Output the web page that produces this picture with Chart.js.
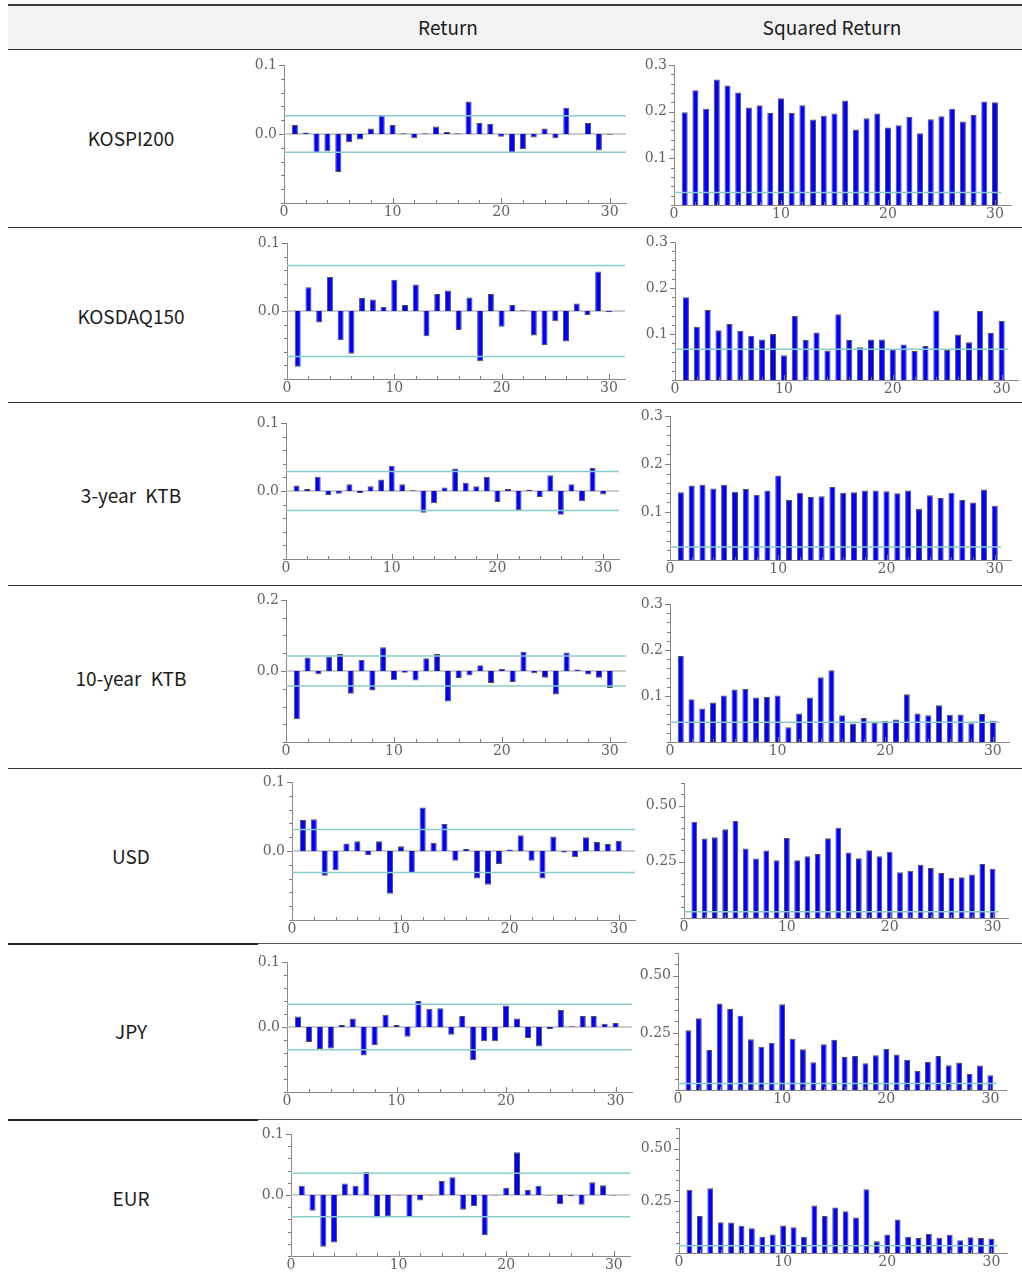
<!DOCTYPE html>
<html>
<head>
<meta charset="utf-8">
<title>Autocorrelation of returns and squared returns</title>
<script src="https://cdn.jsdelivr.net/npm/chart.js@4.4.1/dist/chart.umd.min.js"></script>
<style>
  html, body { margin: 0; padding: 0; background: #ffffff; }
  #sheet { position: relative; width: 1022px; height: 1275px; overflow: hidden;
           font-family: "Noto Sans CJK KR", "Noto Sans", sans-serif; color: #1c1c1c; }
  .hdr { position: absolute; left: 8px; right: 0; top: 4px; height: 43px; background: #f2f2f2;
         border-top: 2px solid #3a3a3a; border-bottom: 1.5px solid #2e2e2e; }
  .htxt { position: absolute; top: 26px; transform: translate(-50%, -50%); font-size: 19px; white-space: nowrap; }
  .rowlab { position: absolute; left: 131px; transform: translate(-50%, -50%); font-size: 19px;
            white-space: nowrap; word-spacing: 5px; }
  .sep { position: absolute; height: 0; }
  canvas { position: absolute; }
</style>
</head>
<body>
<div id="sheet">
  <div class="hdr"></div>
  <div class="htxt" style="left:448px">Return</div>
  <div class="htxt" style="left:832px">Squared Return</div>
</div>
<script>
// ---- lags and axis tick labels ----
const lags = [1,2,3,4,5,6,7,8,9,10,11,12,13,14,15,16,17,18,19,20,21,22,23,24,25,26,27,28,29,30];
const xTickValues = [0, 10, 20, 30];
const xTickLabels = ['0', '10', '20', '30'];
const retTickValues = [0, 0.1];
const retTickLabels = ['0.0', '0.1'];
const ret2TickValues = [0, 0.2];
const ret2TickLabels = ['0.0', '0.2'];
const sqTickValues = [0.1, 0.2, 0.3];
const sqTickLabels = ['0.1', '0.2', '0.3'];
const sq2TickValues = [0.25, 0.5];
const sq2TickLabels = ['0.25', '0.50'];

// ---- series ----
const assetNames = ['KOSPI200', 'KOSDAQ150', '3-year KTB', '10-year KTB', 'USD', 'JPY', 'EUR'];

const kospiRet = [0.013,0.002,-0.027,-0.025,-0.055,-0.012,-0.008,0.008,0.027,0.013,0.001,-0.006,0.001,0.011,0.003,0.001,0.047,0.016,0.015,-0.004,-0.027,-0.022,-0.005,0.008,-0.006,0.038,-0.0005,0.016,-0.024,-0.001];
const kospiRetBand = 0.0265;
const kospiSq = [0.199,0.246,0.206,0.269,0.256,0.241,0.209,0.214,0.197,0.229,0.197,0.214,0.183,0.191,0.196,0.224,0.162,0.186,0.196,0.166,0.171,0.189,0.154,0.184,0.190,0.206,0.179,0.193,0.222,0.220];
const kospiSqBand = 0.027;

const kosdaqRet = [-0.082,0.035,-0.017,0.050,-0.043,-0.063,0.019,0.017,0.006,0.046,0.009,0.039,-0.037,0.025,0.030,-0.028,0.020,-0.074,0.025,-0.023,0.009,0.001,-0.036,-0.050,-0.015,-0.045,0.011,-0.006,0.058,-0.002];
const kosdaqRetBand = 0.067;
const kosdaqSq = [0.180,0.116,0.152,0.108,0.122,0.107,0.096,0.088,0.100,0.054,0.139,0.087,0.103,0.064,0.143,0.087,0.071,0.088,0.088,0.067,0.077,0.063,0.074,0.151,0.065,0.099,0.082,0.150,0.102,0.128];
const kosdaqSqBand = 0.067;

const ktb3Ret = [0.008,0.003,0.021,-0.006,-0.004,0.010,-0.003,0.007,0.017,0.037,0.010,0.001,-0.032,-0.018,0.005,0.033,0.012,0.007,0.021,-0.016,0.003,-0.028,0.002,-0.009,0.023,-0.035,0.010,-0.015,0.034,-0.005];
const ktb3RetBand = 0.0285;
const ktb3Sq = [0.141,0.155,0.157,0.149,0.157,0.142,0.148,0.136,0.145,0.176,0.125,0.140,0.131,0.133,0.152,0.140,0.141,0.145,0.145,0.143,0.139,0.145,0.106,0.135,0.129,0.140,0.125,0.120,0.147,0.113];
const ktb3SqBand = 0.027;

const ktb10Ret = [-0.136,0.038,-0.009,0.041,0.048,-0.064,0.031,-0.055,0.067,-0.026,-0.005,-0.027,0.036,0.048,-0.086,-0.020,-0.013,0.016,-0.034,0.006,-0.031,0.054,-0.006,-0.019,-0.066,0.052,0.004,-0.010,-0.019,-0.048];
const ktb10RetBand = 0.0425;
const ktb10Sq = [0.187,0.093,0.073,0.086,0.101,0.114,0.115,0.097,0.098,0.101,0.032,0.062,0.097,0.141,0.156,0.058,0.040,0.052,0.042,0.046,0.049,0.104,0.062,0.058,0.080,0.059,0.060,0.041,0.061,0.046];
const ktb10SqBand = 0.043;

const usdRet = [0.045,0.046,-0.036,-0.028,0.011,0.014,-0.006,0.014,-0.062,0.007,-0.032,0.063,0.012,0.039,-0.014,0.003,-0.040,-0.049,-0.019,0.002,0.023,-0.014,-0.040,0.021,-0.002,-0.009,0.020,0.013,0.010,0.015];
const usdRetBand = 0.031;
const usdSq = [0.428,0.353,0.359,0.394,0.431,0.309,0.265,0.300,0.257,0.356,0.257,0.275,0.285,0.354,0.401,0.291,0.266,0.301,0.274,0.294,0.203,0.210,0.237,0.222,0.200,0.179,0.181,0.193,0.240,0.219];
const usdSqBand = 0.028;

const jpyRet = [0.016,-0.023,-0.034,-0.033,0.003,0.013,-0.044,-0.028,0.019,0.003,-0.015,0.040,0.028,0.029,-0.012,0.017,-0.051,-0.022,-0.022,0.033,0.013,-0.017,-0.030,-0.003,0.026,0.001,0.017,0.017,0.005,0.006];
const jpyRetBand = 0.035;
const jpySq = [0.262,0.314,0.175,0.379,0.355,0.325,0.222,0.189,0.207,0.376,0.225,0.179,0.121,0.200,0.220,0.145,0.149,0.117,0.152,0.180,0.155,0.132,0.083,0.123,0.149,0.108,0.120,0.070,0.107,0.065];
const jpySqBand = 0.028;

const eurRet = [0.015,-0.026,-0.085,-0.078,0.019,0.015,0.038,-0.037,-0.035,-0.001,-0.036,-0.009,-0.001,0.023,0.029,-0.024,-0.018,-0.066,-0.001,0.012,0.070,0.008,0.015,-0.001,-0.015,-0.002,-0.016,0.021,0.016,-0.001];
const eurRetBand = 0.0355;
const eurSq = [0.304,0.178,0.311,0.148,0.146,0.131,0.119,0.078,0.089,0.132,0.124,0.078,0.228,0.178,0.218,0.201,0.170,0.306,0.057,0.089,0.161,0.078,0.072,0.091,0.073,0.088,0.061,0.076,0.072,0.070];
const eurSqBand = 0.035;

// ---- page layout: label rows, separators, plot frames (pixels) ----
const rowLabelY = [137, 315, 494, 677, 855, 1030, 1197];
const separators = [
  { y: 228, split: false }, { y: 403, split: false }, { y: 586, split: false },
  { y: 769, split: false }, { y: 944, split: true }, { y: 1120, split: true }
];
const retFrames = [
  { l: 284, r: 626, t: 65,   b: 203 },
  { l: 287, r: 625, t: 243,  b: 379 },
  { l: 286, r: 619, t: 423,  b: 559 },
  { l: 286, r: 626, t: 600,  b: 742 },
  { l: 292, r: 635, t: 782,  b: 920 },
  { l: 287, r: 632, t: 962,  b: 1092 },
  { l: 291, r: 630, t: 1134, b: 1256 }
];
const sqFrames = [
  { l: 674, r: 1011, t: 65,   b: 205 },
  { l: 675, r: 1018, t: 242,  b: 380 },
  { l: 670, r: 1011, t: 416,  b: 560 },
  { l: 670, r: 1009, t: 604,  b: 742 },
  { l: 684, r: 1008, t: 783,  b: 918 },
  { l: 678, r: 1006, t: 953,  b: 1090 },
  { l: 679, r: 1007, t: 1128, b: 1253 }
];

const sheet = document.getElementById('sheet');

assetNames.forEach((name, i) => {
  const d = document.createElement('div');
  d.className = 'rowlab';
  d.style.top = rowLabelY[i] + 'px';
  d.textContent = name;
  sheet.appendChild(d);
});

separators.forEach(s => {
  if (s.split) {
    const a = document.createElement('div');
    a.className = 'sep';
    a.style.cssText = `left:8px;width:250px;top:${s.y - 1}px;border-top:2px solid #262626;`;
    const b = document.createElement('div');
    b.className = 'sep';
    b.style.cssText = `left:258px;right:0;top:${s.y - 1}px;border-top:1.5px solid #555;`;
    sheet.appendChild(a); sheet.appendChild(b);
  } else {
    const a = document.createElement('div');
    a.className = 'sep';
    a.style.cssText = `left:8px;right:0;top:${s.y - 1}px;border-top:1.5px solid #333;`;
    sheet.appendChild(a);
  }
});

// Frame tick marks: y ticks point outward to the left, x ticks point up into the plot.
const frameTicks = {
  id: 'frameTicks',
  afterDraw(chart, args, opts) {
    const { ctx, chartArea: a, scales: { x, y } } = chart;
    ctx.save();
    ctx.strokeStyle = '#7c7c7c';
    ctx.lineWidth = 1;
    ctx.beginPath();
    const n = Math.round((opts.yTo - opts.yFrom) / opts.yStep);
    for (let k = 0; k <= n; k++) {
      const v = opts.yFrom + k * opts.yStep;
      const py = Math.round(y.getPixelForValue(v)) + 0.5;
      const major = opts.yMajor.some(m => Math.abs(m - v) < 1e-9);
      ctx.moveTo(a.left - (major ? 5 : 3), py);
      ctx.lineTo(a.left, py);
    }
    for (let v = 2; v <= 30; v += 2) {
      const px = Math.round(x.getPixelForValue(v)) + 0.5;
      const major = v % 10 === 0;
      ctx.moveTo(px, a.bottom);
      ctx.lineTo(px, a.bottom - (major ? 5 : 3));
    }
    ctx.stroke();
    ctx.restore();
  }
};

// Top padding must exceed the y axis label overhang (half label height + tick padding).
const Y_W = 46, X_H = 24, PAD_T = 20, PAD_R = 6;
const tickFont = { family: 'DejaVu Serif', size: 14 };
const tickColor = '#626262';
const bandColor = '#88cccb';

function drawPanel(frame, values, band, kind) {
  const isRet = kind === 'ret' || kind === 'ret2';
  const yMin = kind === 'ret' ? -0.1 : kind === 'ret2' ? -0.2 : 0;
  const yMax = kind === 'ret' ? 0.1 : kind === 'ret2' ? 0.2 : kind === 'sq' ? 0.3 : 0.6;
  const yStep = kind === 'ret' ? 0.02 : kind === 'ret2' ? 0.05 : kind === 'sq' ? 0.02 : 0.05;
  const yVals = { ret: retTickValues, ret2: ret2TickValues, sq: sqTickValues, sq2: sq2TickValues }[kind];
  const yLabs = { ret: retTickLabels, ret2: ret2TickLabels, sq: sqTickLabels, sq2: sq2TickLabels }[kind];
  const xMax = 31.5;
  const bandEnd = isRet ? xMax : 30.6;

  const cv = document.createElement('canvas');
  const w = frame.r - frame.l + Y_W + PAD_R;
  const h = frame.b - frame.t + PAD_T + X_H;
  cv.width = w; cv.height = h;
  cv.style.left = (frame.l - Y_W) + 'px';
  cv.style.top = (frame.t - PAD_T) + 'px';
  cv.style.width = w + 'px'; cv.style.height = h + 'px';
  sheet.appendChild(cv);

  const datasets = [{
    type: 'bar',
    data: lags.map((l, i) => ({ x: l, y: values[i] })),
    backgroundColor: '#0000ff',
    borderColor: 'rgba(50,50,50,0.85)',
    borderWidth: 1,
    barPercentage: 0.56,
    categoryPercentage: 1,
    order: 3
  }];
  if (isRet) {
    datasets.push({ type: 'line', data: [{ x: 0, y: 0 }, { x: xMax, y: 0 }],
      borderColor: '#bdbdbd', borderWidth: 1.5, pointRadius: 0, order: 4 });
    datasets.push({ type: 'line', data: [{ x: 0, y: band }, { x: bandEnd, y: band }],
      borderColor: bandColor, borderWidth: 1.5, pointRadius: 0, order: 1 });
    datasets.push({ type: 'line', data: [{ x: 0, y: -band }, { x: bandEnd, y: -band }],
      borderColor: bandColor, borderWidth: 1.5, pointRadius: 0, order: 1 });
  } else {
    datasets.push({ type: 'line', data: [{ x: 0, y: band }, { x: bandEnd, y: band }],
      borderColor: bandColor, borderWidth: 1.5, pointRadius: 0, order: 1 });
  }

  new Chart(cv, {
    type: 'bar',
    data: { datasets },
    plugins: [frameTicks],
    options: {
      responsive: false,
      animation: false,
      devicePixelRatio: 1,
      layout: { padding: { top: PAD_T, right: PAD_R, left: 0, bottom: 0 } },
      plugins: {
        legend: { display: false },
        tooltip: { enabled: false },
        frameTicks: { yFrom: yMin, yTo: yMax, yStep: yStep, yMajor: yVals }
      },
      scales: {
        x: {
          type: 'linear', min: 0, max: xMax, offset: false,
          grid: { display: false, drawTicks: false, offset: false },
          border: { display: true, color: '#8a8a8a', width: 1 },
          ticks: { font: tickFont, color: tickColor, padding: 1, maxRotation: 0, autoSkip: false,
                   callback: (v, idx) => xTickLabels[idx] },
          afterBuildTicks: s => { s.ticks = xTickValues.map(v => ({ value: v })); },
          afterFit: s => { s.height = X_H; }
        },
        y: {
          type: 'linear', min: yMin, max: yMax,
          grid: { display: false, drawTicks: false },
          border: { display: true, color: '#8a8a8a', width: 1 },
          ticks: { font: tickFont, color: tickColor, padding: 7, autoSkip: false,
                   callback: (v, idx) => yLabs[idx] },
          afterBuildTicks: s => { s.ticks = yVals.map(v => ({ value: v })); },
          afterFit: s => { s.width = Y_W; }
        }
      }
    }
  });
}

const retSeries = [kospiRet, kosdaqRet, ktb3Ret, ktb10Ret, usdRet, jpyRet, eurRet];
const retBands = [kospiRetBand, kosdaqRetBand, ktb3RetBand, ktb10RetBand, usdRetBand, jpyRetBand, eurRetBand];
const sqSeries = [kospiSq, kosdaqSq, ktb3Sq, ktb10Sq, usdSq, jpySq, eurSq];
const sqBands = [kospiSqBand, kosdaqSqBand, ktb3SqBand, ktb10SqBand, usdSqBand, jpySqBand, eurSqBand];
const retKinds = ['ret', 'ret', 'ret', 'ret2', 'ret', 'ret', 'ret'];
const sqKinds = ['sq', 'sq', 'sq', 'sq', 'sq2', 'sq2', 'sq2'];

for (let i = 0; i < assetNames.length; i++) {
  drawPanel(retFrames[i], retSeries[i], retBands[i], retKinds[i]);
  drawPanel(sqFrames[i], sqSeries[i], sqBands[i], sqKinds[i]);
}
</script>
</body>
</html>
